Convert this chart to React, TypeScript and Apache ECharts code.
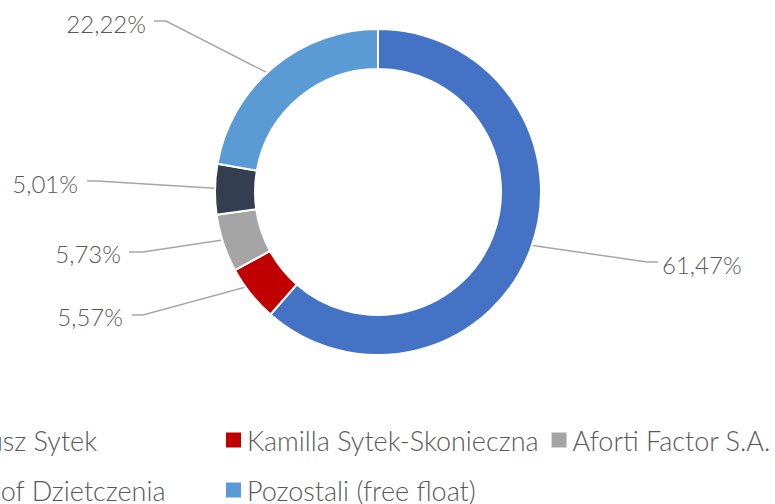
import React, { useEffect, useRef } from 'react';
import * as echarts from 'echarts';

const holders = [
  'Klaudiusz Sytek',
  'Kamilla Sytek-Skonieczna',
  'Aforti Factor S.A.',
  'Krzysztof Dzietczenia',
  'Pozostali (free float)',
];
const shares = [61.47, 5.57, 5.73, 5.01, 22.22];
const sliceColors = ['#4472C4', '#C00000', '#A5A5A5', '#333F50', '#5B9BD5'];

// label layout: elbow point, end of line, text anchor, alignment
const labelPlacement = [
  { elbow: [647, 262], end: [658, 262], text: [662, 264], align: 'left' },
  { elbow: [143, 315], end: [132, 315], text: [123, 316], align: 'right' },
  { elbow: [143, 252], end: [129, 252], text: [121, 253], align: 'right' },
  { elbow: [97, 181], end: [87, 181], text: [78, 183], align: 'right' },
  { elbow: [166, 21], end: [154, 21], text: [146, 23], align: 'right' },
];

const CX = 378;
const CY = 192;
const R_OUT = 163;
const R_IN = 123;
const FONT = 'Lato';
const TEXT_COLOR = '#595959';
const LEGEND_SIZE = 27;
const LABEL_SIZE = 24;
const ROW1 = 440;
const ROW2 = 490;

function measure(text: string, size: number): number {
  const c = document.createElement('canvas').getContext('2d');
  if (!c) return text.length * size * 0.45;
  c.font = `300 ${size}px ${FONT}`;
  return c.measureText(text).width;
}

export default function App() {
  const ref = useRef<HTMLDivElement>(null);
  useEffect(() => {
    if (!ref.current) return;
    const chart = echarts.init(ref.current, undefined, { renderer: 'svg' });
    const total = shares.reduce((a, b) => a + b, 0);
    const midAngles: number[] = [];
    let acc = 0;
    shares.forEach((v) => {
      midAngles.push(((acc + v / 2) / total) * Math.PI * 2);
      acc += v;
    });
    const rMid = (R_OUT + R_IN) / 2;

    const col1Text = 165 - measure(holders[3], LEGEND_SIZE);
    const col1Marker = col1Text - 22;
    const col2Marker = 224;
    const col3Marker = col2Marker + 22 + measure(holders[1], LEGEND_SIZE) + 12;
    const legendSpots = [
      [col1Marker, ROW1],
      [col2Marker, ROW1],
      [col3Marker, ROW1],
      [col1Marker, ROW2],
      [col2Marker, ROW2],
    ];

    const legends = holders.map((name, i) => ({
      data: [name],
      left: legendSpots[i][0],
      top: legendSpots[i][1] - 15,
      icon: 'rect',
      itemWidth: 17,
      itemHeight: 17,
      padding: 0,
      itemGap: 0,
      selectedMode: false,
      textStyle: {
        fontFamily: FONT,
        fontSize: LEGEND_SIZE,
        fontWeight: 300,
        color: TEXT_COLOR,
        lineHeight: 30,
      },
    }));

    chart.setOption({
      animation: false,
      color: sliceColors,
      legend: legends,
      series: [
        {
          type: 'pie',
          center: [CX, CY],
          radius: [R_IN, R_OUT],
          startAngle: 90,
          clockwise: true,
          avoidLabelOverlap: false,
          itemStyle: { borderColor: '#ffffff', borderWidth: 2 },
          label: {
            show: true,
            fontFamily: FONT,
            fontSize: LABEL_SIZE,
            fontWeight: 300,
            color: TEXT_COLOR,
            formatter: (p: any) => shares[p.dataIndex].toFixed(2).replace('.', ',') + '%',
          },
          labelLine: { show: true, lineStyle: { color: '#A6A6A6', width: 1.5 } },
          emphasis: { disabled: true },
          labelLayout: (params: any) => {
            const i = params.dataIndex;
            const a = midAngles[i];
            const sx = CX + rMid * Math.sin(a);
            const sy = CY - rMid * Math.cos(a);
            const lp = labelPlacement[i];
            return {
              x: lp.text[0],
              y: lp.text[1],
              align: lp.align,
              verticalAlign: 'middle',
              labelLinePoints: [[sx, sy], lp.elbow, lp.end],
            };
          },
          data: holders.map((name, i) => ({ name, value: shares[i] })),
        },
      ],
    });
    return () => chart.dispose();
  }, []);
  return (
    <div
      ref={ref}
      style={{ position: 'absolute', left: 0, top: 0, width: 775, height: 504, background: '#fff' }}
    />
  );
}
